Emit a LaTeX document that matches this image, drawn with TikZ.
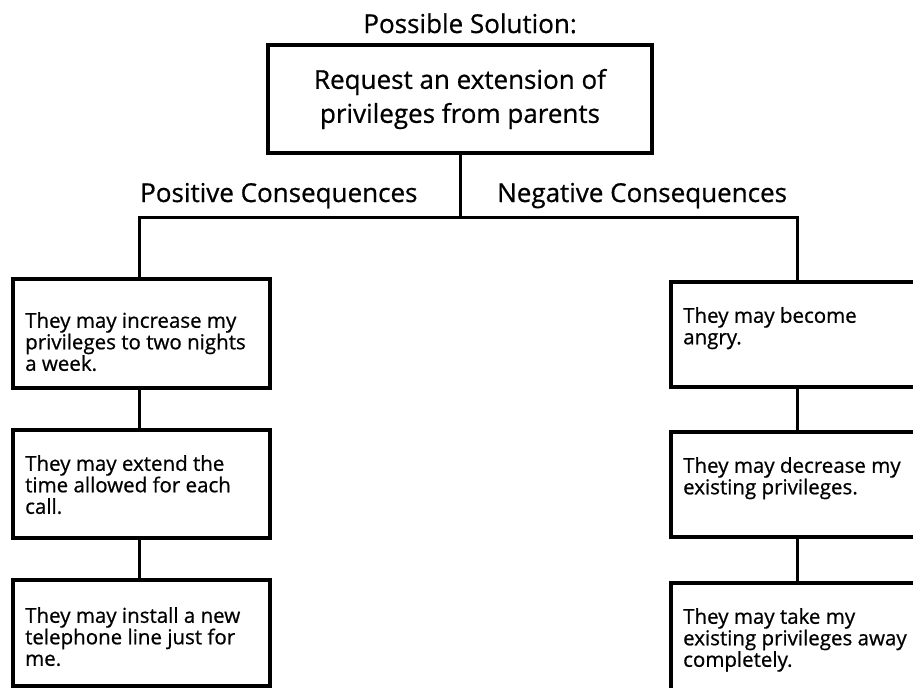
\documentclass[tikz,border=0pt]{standalone}
\usepackage{fontspec}
\setmainfont{Open Sans}[FakeBold=0.7]
\begin{document}
\begin{tikzpicture}[x=1pt,y=-1pt,
  conn/.style={draw=black, line width=3pt},
  box/.style={draw=black, line width=3.2pt, rectangle, inner sep=0pt},
  big/.style={font=\fontsize{26}{34}\selectfont, inner sep=0pt},
  txt/.style={font=\fontsize{20.5}{21.5}\selectfont, align=left, inner sep=0pt, anchor=north west}
]
\useasboundingbox (0,0) rectangle (913,688);
\clip (0,0) rectangle (913,688);

\node[big, anchor=base east] (ps) at (577,33) {Possible Solution:};
\node[box, big, align=center, minimum width=384pt, minimum height=108pt] (top) at (460,99) {Request an extension of\\privileges from parents};
\node[big, anchor=base west] (pos) at (140,202) {Positive Consequences};
\node[big, anchor=base west] (neg) at (497,202) {Negative Consequences};

\coordinate (jm) at (460,217);
\coordinate (jl) at (139,217);
\coordinate (jr) at (797,217);

% left column boxes
\node[box, minimum width=257pt, minimum height=109pt] (L1) at (141.5,333.5) {};
\node[box, minimum width=257pt, minimum height=108pt] (L2) at (141.5,484) {};
\node[box, minimum width=257pt, minimum height=106pt] (L3) at (141.5,633) {};
% right column boxes
\node[box, minimum width=262pt, minimum height=105pt] (R1) at (802,334.5) {};
\node[box, minimum width=262pt, minimum height=105pt] (R2) at (802,484.5) {};
\node[box, minimum width=262pt, minimum height=108pt] (R3) at (802,637) {};

\node[txt] (L1t) at (25,312) {They may increase my\\privileges to two nights\\a week.};
\node[txt] (L2t) at (25,455) {They may extend the\\time allowed for each\\call.};
\node[txt] (L3t) at (25,607) {They may install a new\\telephone line just for\\me.};
\node[txt] (R1t) at (683,307) {They may become\\angry.};
\node[txt] (R2t) at (683,457) {They may decrease my\\existing privileges.};
\node[txt] (R3t) at (683,608) {They may take my\\existing privileges away\\completely.};

\draw[conn] (top.south) -- (jm);
\draw[conn] (L1.north -| jl) -- (jl) -- (jr) -- (R1.north -| jr);
\draw[conn] (L1.south -| jl) -- (L2.north -| jl);
\draw[conn] (L2.south -| jl) -- (L3.north -| jl);
\draw[conn] (R1.south -| jr) -- (R2.north -| jr);
\draw[conn] (R2.south -| jr) -- (R3.north -| jr);
\end{tikzpicture}
\end{document}
